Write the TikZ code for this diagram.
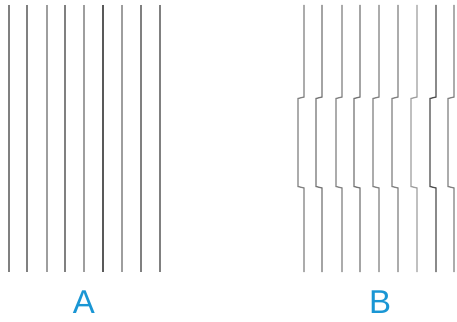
\documentclass[tikz,border=0pt]{standalone}
\usepackage{fontspec}
\setmainfont{Liberation Sans}
\definecolor{labelblue}{HTML}{1A96D4}
\begin{document}
\begin{tikzpicture}[x=1pt,y=-1pt,
  stripe/.style={line width=1.3pt,line join=miter},
  lbl/.style={text=labelblue,font=\fontsize{33}{33}\selectfont,inner sep=0pt,anchor=center}]
\useasboundingbox (0,0) rectangle (457,321);
% Group A: straight lines
\foreach \x/\g in {9/50,27/50,47/38,65/50,84/38,103/65,122/38,141/50,160/50}{
  \draw[stripe,black!\g] (\x,5) -- (\x,272);
}
% Group B: lines with a jog
\foreach \x/\g in {304/50,322/55,342/50,360/55,379/50,398/50,417/38,436/70,454/50}{
  \draw[stripe,black!\g] (\x,5) -- (\x,97) -- (\x-6,98.5) -- (\x-6,186.5) -- (\x,188) -- (\x,272);
}
\node[lbl] (A) at (84,302) {A};
\node[lbl] (B) at (380,302) {B};
\end{tikzpicture}
\end{document}
